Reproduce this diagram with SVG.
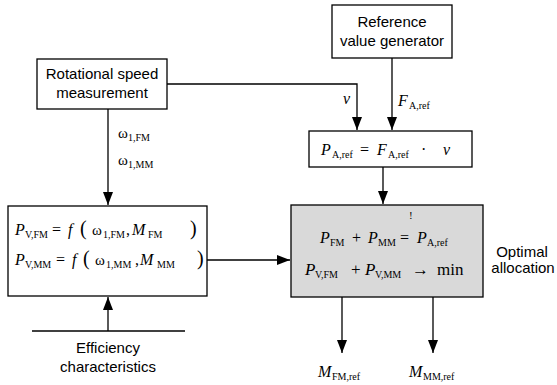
<svg xmlns="http://www.w3.org/2000/svg" width="557" height="385" viewBox="0 0 557 385">
<style>
.box{fill:#fff;stroke:#000;stroke-width:1.3}
.gray{fill:#d9d9d9;stroke:#000;stroke-width:1.3}
.ln{fill:none;stroke:#000;stroke-width:1.3}
.lbl{font-family:'Liberation Sans',Arial,sans-serif;font-size:15px;fill:#000}
.m{font-family:'Liberation Serif','DejaVu Serif',serif;font-size:16px;fill:#000}
.i{font-style:italic}
.s{font-size:10px}
.p{font-size:20px}
.w{font-size:15px}
</style>
<defs>
<marker id="ar" markerUnits="userSpaceOnUse" markerWidth="14" markerHeight="10" refX="13" refY="5" orient="auto" viewBox="0 0 14 10">
<path d="M0,0 L13,5 L0,10 Z" fill="#000"/>
</marker>
</defs>

<g id="connectors">
<path class="ln" d="M167,84 H357 V130" marker-end="url(#ar)"/>
<path class="ln" d="M392,58 V130" marker-end="url(#ar)"/>
<path class="ln" d="M383,167 V204" marker-end="url(#ar)"/>
<path class="ln" d="M108,109 V205" marker-end="url(#ar)"/>
<path class="ln" d="M207,260 H290" marker-end="url(#ar)"/>
<path class="ln" d="M108,331 V297" marker-end="url(#ar)"/>
<path class="ln" d="M32,331 H185"/>
<path class="ln" d="M342,297 V353" marker-end="url(#ar)"/>
<path class="ln" d="M433,297 V353" marker-end="url(#ar)"/>
<text class="m i" x="343" y="104">v</text>
<text class="m"><tspan class="i" x="398" y="106">F</tspan><tspan class="s" x="409" y="109">A,ref</tspan></text>
<text class="m"><tspan class="w" x="118" y="138">ω</tspan><tspan class="s" x="128" y="141">1,FM</tspan></text>
<text class="m"><tspan class="w" x="118" y="165">ω</tspan><tspan class="s" x="128" y="168">1,MM</tspan></text>
<text class="m"><tspan class="i" x="318" y="377">M</tspan><tspan class="s" x="332" y="380">FM,ref</tspan></text>
<text class="m"><tspan class="i" x="409" y="377">M</tspan><tspan class="s" x="423" y="380">MM,ref</tspan></text>
</g>

<g id="speed">
<rect class="box" x="37" y="59" width="130" height="50"/>
<text class="lbl" x="102" y="79" text-anchor="middle">Rotational speed</text>
<text class="lbl" x="102" y="98" text-anchor="middle">measurement</text>
</g>

<g id="refgen">
<rect class="box" x="332" y="5" width="120" height="53"/>
<text class="lbl" x="392" y="27" text-anchor="middle">Reference</text>
<text class="lbl" x="392" y="46" text-anchor="middle">value generator</text>
</g>

<g id="pref">
<rect class="box" x="309" y="131" width="163" height="36"/>
<text class="m"><tspan class="i" x="321" y="155">P</tspan><tspan class="s" x="332" y="158">A,ref</tspan><tspan x="360" y="155">=</tspan><tspan class="i" x="377" y="155">F</tspan><tspan class="s" x="388" y="158">A,ref</tspan><tspan x="421" y="155">·</tspan><tspan class="i" x="443" y="155">v</tspan></text>
</g>

<g id="losses">
<rect class="box" x="8" y="206" width="199" height="90"/>
<text class="m"><tspan class="i" x="15" y="235">P</tspan><tspan class="s" x="25" y="238">V,FM</tspan><tspan x="52" y="235">=</tspan><tspan class="i" x="68" y="235">f</tspan><tspan class="p" x="80" y="235">(</tspan><tspan class="w" x="92" y="235">ω</tspan><tspan class="s" x="103" y="238">1,FM</tspan><tspan x="126" y="235">,</tspan><tspan class="i" x="132" y="235">M</tspan><tspan class="s" x="148" y="238">FM</tspan><tspan class="p" x="190" y="235">)</tspan></text>
<text class="m"><tspan class="i" x="15" y="265">P</tspan><tspan class="s" x="25" y="268">V,MM</tspan><tspan x="56" y="265">=</tspan><tspan class="i" x="72" y="265">f</tspan><tspan class="p" x="83" y="265">(</tspan><tspan class="w" x="95" y="265">ω</tspan><tspan class="s" x="106" y="268">1,MM</tspan><tspan x="135" y="265">,</tspan><tspan class="i" x="140" y="265">M</tspan><tspan class="s" x="157" y="268">MM</tspan><tspan class="p" x="197" y="265">)</tspan></text>
</g>

<g id="efficiency">
<text class="lbl" x="108" y="353" text-anchor="middle">Efficiency</text>
<text class="lbl" x="108" y="372" text-anchor="middle">characteristics</text>
</g>

<g id="alloc">
<rect class="gray" x="291" y="205" width="192" height="92"/>
<text x="409" y="219" font-family="Liberation Serif, DejaVu Serif, serif" font-size="11" fill="#000">!</text>
<text class="m"><tspan class="i" x="320" y="243">P</tspan><tspan class="s" x="330" y="246">FM</tspan><tspan x="352" y="243">+</tspan><tspan class="i" x="368" y="243">P</tspan><tspan class="s" x="378" y="246">MM</tspan><tspan x="400" y="243">=</tspan><tspan class="i" x="417" y="243">P</tspan><tspan class="s" x="427" y="246">A,ref</tspan></text>
<text class="m" style="font-size:17px"><tspan class="i" x="305" y="275">P</tspan><tspan class="s" x="315" y="278">V,FM</tspan><tspan x="351" y="275">+</tspan><tspan class="i" x="365" y="275">P</tspan><tspan class="s" x="375" y="278">V,MM</tspan><tspan x="412" y="275">→</tspan><tspan x="437" y="275">min</tspan></text>
</g>

<g id="optimal">
<text class="lbl" x="522" y="257" text-anchor="middle">Optimal</text>
<text class="lbl" x="523" y="273" text-anchor="middle">allocation</text>
</g>
</svg>
